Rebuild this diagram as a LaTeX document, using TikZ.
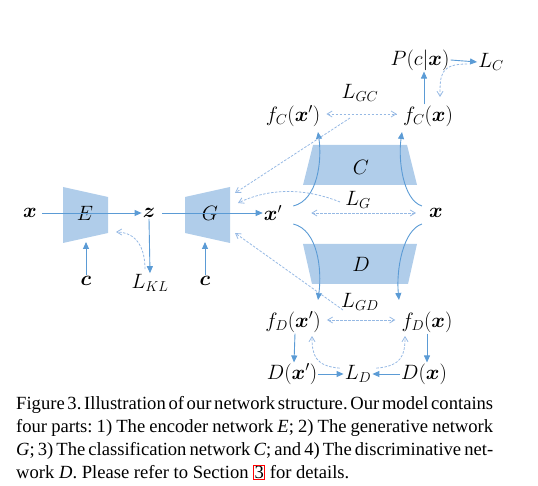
\documentclass[tikz,border=0pt]{standalone}
\usepackage{amsmath,bm}
\usepackage{fontspec}
\setmainfont{Liberation Serif}
\usetikzlibrary{arrows.meta}
\definecolor{ablue}{RGB}{91,155,213}
\definecolor{dblue}{RGB}{150,185,228}
\definecolor{tfill}{RGB}{176,205,234}
\tikzset{
  lbl/.style={inner sep=1pt, font=\fontsize{20}{22}\selectfont},
  solidarr/.style={draw=ablue, line width=0.9pt, -{Triangle[length=7pt,width=6pt]}},
  dasharr/.style={draw=dblue, line width=0.8pt, dashed, dash pattern=on 2.5pt off 1.5pt, -{Straight Barb[length=5pt,width=6pt]}},
  dashboth/.style={dasharr, {Straight Barb[length=5pt,width=6pt]}-{Straight Barb[length=5pt,width=6pt]}},
  trap/.style={fill=tfill, draw=none}
}
\begin{document}
\begin{tikzpicture}[x=1pt,y=-1pt]
\useasboundingbox (0,0) rectangle (538,486);
% trapezoids
\path[trap] (63,187) -- (108,197) -- (108,233) -- (63,243) -- cycle;
\path[trap] (185,197) -- (230,187) -- (230,243) -- (185,233) -- cycle;
\path[trap] (313,145) -- (407,145) -- (417,185) -- (303,185) -- cycle;
\path[trap] (303,244) -- (417,244) -- (408,284) -- (312,284) -- cycle;
% labels
\node[lbl] (xin) at (30,213) {$\bm{x}$};
\node[lbl] (Elab) at (85,213) {$E$};
\node[lbl] (z) at (149,213) {$\bm{z}$};
\node[lbl] (cE) at (86,281) {$\bm{c}$};
\node[lbl] (LKL) at (150,283) {$L_{KL}$};
\node[lbl] (Glab) at (210,213) {$G$};
\node[lbl] (cG) at (205,281) {$\bm{c}$};
\node[lbl] (xp) at (273,213) {$\bm{x}'$};
\node[lbl] (xr) at (436,213) {$\bm{x}$};
\node[lbl] (Clab) at (361,167) {$C$};
\node[lbl] (Dlab) at (361,264) {$D$};
\node[lbl] (LG) at (358,200) {$L_G$};
\node[lbl] (fCxp) at (293,116) {$f_C(\bm{x}')$};
\node[lbl] (fCx) at (428,116) {$f_C(\bm{x})$};
\node[lbl] (LGC) at (360,93) {$L_{GC}$};
\node[lbl] (P) at (420,60) {$P(c|\bm{x})$};
\node[lbl] (LC) at (491,62) {$L_C$};
\node[lbl] (fDxp) at (293,322) {$f_D(\bm{x}')$};
\node[lbl] (fDx) at (427,322) {$f_D(\bm{x})$};
\node[lbl] (LGD) at (360,302) {$L_{GD}$};
\node[lbl] (Dxp) at (292,374) {$D(\bm{x}')$};
\node[lbl] (LD) at (358,374) {$L_D$};
\node[lbl] (Dx) at (424,374) {$D(\bm{x})$};
% coordinates
\coordinate (Ebot) at (86,242);
\coordinate (Gbot) at (205,242);
\coordinate (Eport) at (116,232);
\coordinate (Gp1) at (235,193);
\coordinate (Gp2) at (238,203);
\coordinate (Gp3) at (235,233);
\coordinate (sGC) at (350,118);
\coordinate (sGD) at (343,310);
% solid arrows
\draw[solidarr] (xin.east) ++(4,0) -- (z.west);
\draw[solidarr] (z.east) ++(6,0) -- (xp.west);
\draw[solidarr] (cE.north) -- (Ebot);
\draw[solidarr] (cG.north) -- (Gbot);
\draw[solidarr] (z.south) -- (LKL.north);
\draw[solidarr] (fCx.north) ++(-4,0) -- ([xshift=4pt]P.south);
\draw[solidarr] (P.east) -- (LC.west);
\draw[solidarr] (xp.east) ++(10,-7) .. controls (318,200) and (322,160) .. (318,132);
\draw[solidarr] (xr.west) ++(-6,-7) .. controls (403,200) and (398,160) .. (402,132);
\draw[solidarr] (xp.east) ++(10,11) .. controls (318,230) and (322,270) .. (318,300);
\draw[solidarr] (xr.west) ++(-6,11) .. controls (403,230) and (396,270) .. (399,300);
\draw[solidarr] (fDxp.south) ++(2,0) -- ([xshift=2pt]Dxp.north);
\draw[solidarr] (fDx.south) -- (Dx.north -| fDx.south);
\draw[solidarr] (Dxp.east) -- (LD.west);
\draw[solidarr] (Dx.west) -- (LD.east);
% dashed arrows
\draw[dasharr] (LKL.north) ++(-5,-4) .. controls (145,240) and (130,232) .. (Eport);
\draw[dasharr] (LC.west) ++(-10,2) .. controls (440,64) and (440,75) .. (440,97);
\draw[dashboth] (fCxp.east) ++(5,-2) -- ([xshift=-5pt,yshift=2pt]fCx.west);
\draw[dashboth] (xp.east) ++(28,0) -- ([xshift=-12pt]xr.west);
\draw[dashboth] (fDxp.east) ++(5,-2) -- ([xshift=-5pt,yshift=2pt]fDx.west);
\draw[dasharr] (sGC) -- (Gp1);
\draw[dasharr] (LG.west) ++(-4,2) .. controls (300,186) and (265,190) .. (Gp2);
\draw[dasharr] (sGD) -- (Gp3);
\draw[dasharr] (LD.north west) ++(-4,4) .. controls (315,366) and (312,355) .. (312,336);
\draw[dasharr] (LD.north east) ++(4,4) .. controls (402,366) and (405,355) .. (405,336);
% caption
\node[anchor=north west, inner sep=0pt, text width=477pt, align=justify,
      font=\fontsize{18.6}{23}\selectfont] (cap) at (16,396)
{\frenchspacing\hyphenpenalty=10000 \emergencystretch=20pt
\spaceskip=0.25em plus 0.3em minus 0.14em
Figure 3. Illustration of our network structure. Our model contains\linebreak
four parts: 1) The encoder network \textit{E}; 2) The generative network\linebreak
\textit{G}; 3) The classification network \textit{C}; and 4) The discriminative net-\linebreak
work \textit{D}. Please refer to Section {\setlength{\fboxsep}{0.3pt}\setlength{\fboxrule}{1pt}\fcolorbox{red}{white}{3}} for details.};
\end{tikzpicture}
\end{document}
